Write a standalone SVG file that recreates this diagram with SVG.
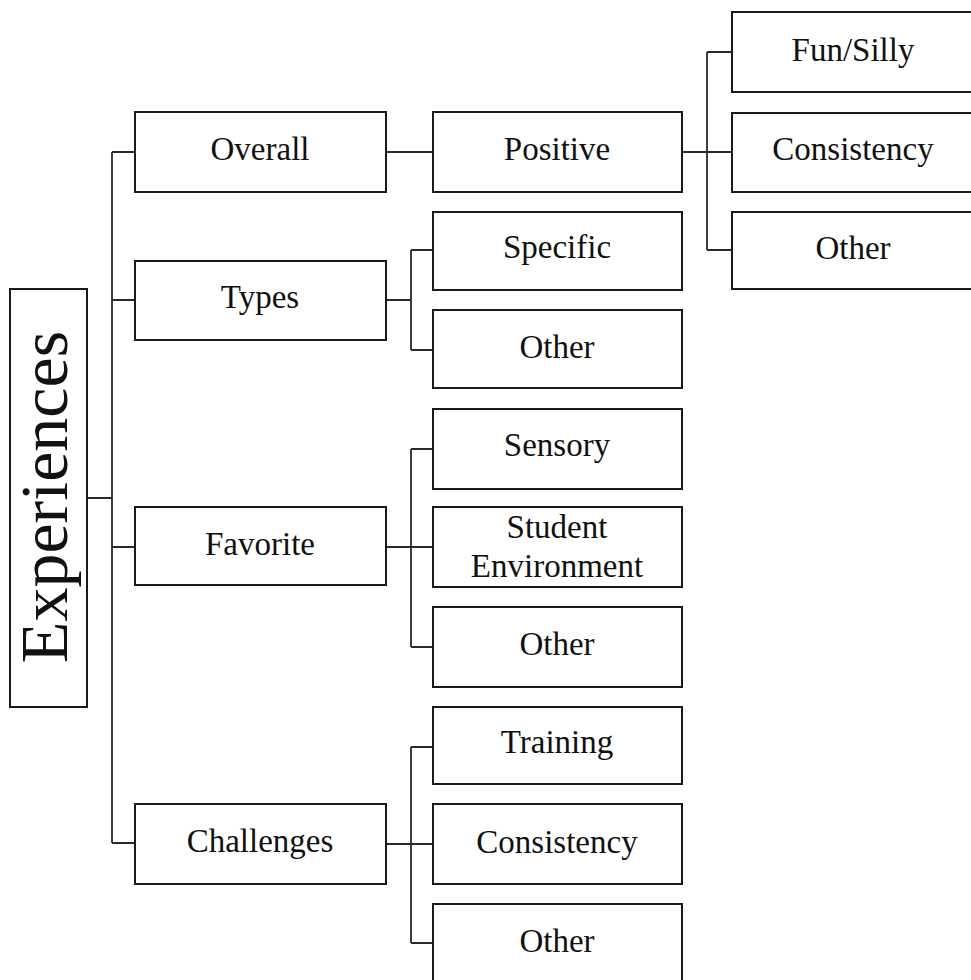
<svg xmlns="http://www.w3.org/2000/svg" width="971" height="980" viewBox="0 0 971 980">
<style>
.box{fill:#fff;stroke:#1a1a1a;stroke-width:2}
.lbl{font-family:"Liberation Serif","Times New Roman",serif;font-size:33px;fill:#111;text-anchor:middle}
.big{font-family:"Liberation Serif","Times New Roman",serif;font-size:68px;fill:#111;text-anchor:middle}
.con{fill:none;stroke:#2a2a2a;stroke-width:1.8}
</style>
<rect width="971" height="980" fill="#fff"/>
<g id="connectors">
<path class="con" d="M87 498H112M112 152V843M112 152H135M112 300H135M112 547H135M112 843H135"/>
<path class="con" d="M386 152H433"/>
<path class="con" d="M682 152H732M707 52V250M707 52H732M707 250H732"/>
<path class="con" d="M386 300H411M411 250V350M411 250H433M411 350H433"/>
<path class="con" d="M386 547H433M411 449V647M411 449H433M411 647H433"/>
<path class="con" d="M386 844H433M411 747V943M411 747H433M411 943H433"/>
</g>
<g id="experiences"><rect class="box" x="10" y="289" width="77" height="418"/><text class="big" transform="translate(67,497) rotate(-90)">Experiences</text></g>
<g id="overall"><rect class="box" x="135" y="112" width="251" height="80"/><text class="lbl" x="260" y="160">Overall</text></g>
<g id="types"><rect class="box" x="135" y="261" width="251" height="79"/><text class="lbl" x="260" y="308">Types</text></g>
<g id="favorite"><rect class="box" x="135" y="507" width="251" height="78"/><text class="lbl" x="260" y="555">Favorite</text></g>
<g id="challenges"><rect class="box" x="135" y="804" width="251" height="80"/><text class="lbl" x="260" y="852">Challenges</text></g>
<g id="positive"><rect class="box" x="433" y="112" width="249" height="80"/><text class="lbl" x="557" y="160">Positive</text></g>
<g id="specific"><rect class="box" x="433" y="212" width="249" height="78"/><text class="lbl" x="557" y="258">Specific</text></g>
<g id="types-other"><rect class="box" x="433" y="310" width="249" height="78"/><text class="lbl" x="557" y="358">Other</text></g>
<g id="sensory"><rect class="box" x="433" y="409" width="249" height="80"/><text class="lbl" x="557" y="456">Sensory</text></g>
<g id="student-env"><rect class="box" x="433" y="507" width="249" height="80"/><text class="lbl" x="557" y="538">Student</text><text class="lbl" x="557" y="577">Environment</text></g>
<g id="fav-other"><rect class="box" x="433" y="607" width="249" height="80"/><text class="lbl" x="557" y="655">Other</text></g>
<g id="training"><rect class="box" x="433" y="707" width="249" height="77"/><text class="lbl" x="557" y="753">Training</text></g>
<g id="ch-consistency"><rect class="box" x="433" y="804" width="249" height="80"/><text class="lbl" x="557" y="853">Consistency</text></g>
<g id="ch-other"><rect class="box" x="433" y="904" width="249" height="90"/><text class="lbl" x="557" y="952">Other</text></g>
<g id="fun-silly"><rect class="box" x="732" y="12" width="260" height="80"/><text class="lbl" x="853" y="61">Fun/Silly</text></g>
<g id="pos-consistency"><rect class="box" x="732" y="113" width="260" height="79"/><text class="lbl" x="853" y="160">Consistency</text></g>
<g id="pos-other"><rect class="box" x="732" y="212" width="260" height="77"/><text class="lbl" x="853" y="259">Other</text></g>
</svg>
